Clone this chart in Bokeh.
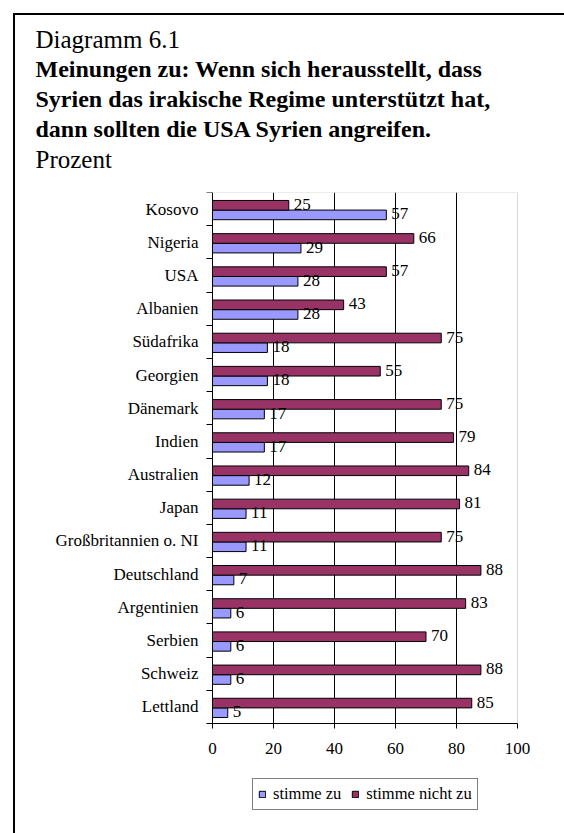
from bokeh.plotting import figure
from bokeh.models import (ColumnDataSource, FixedTicker, Title, Legend, LegendItem, Range1d, BoxAnnotation)
from bokeh.core.properties import value
from bokeh.embed import file_html
from bokeh.resources import INLINE

# ---------------- data ----------------
countries = ["Kosovo", "Nigeria", "USA", "Albanien", "Südafrika", "Georgien", "Dänemark", "Indien",
             "Australien", "Japan", "Großbritannien o. NI", "Deutschland", "Argentinien", "Serbien",
             "Schweiz", "Lettland"]
stimme_zu = [57, 29, 28, 28, 18, 18, 17, 17, 12, 11, 11, 7, 6, 6, 6, 5]
stimme_nicht_zu = [25, 66, 57, 43, 75, 55, 75, 79, 84, 81, 75, 88, 83, 70, 88, 85]
x_ticks = [0, 20, 40, 60, 80, 100]
grid_ticks = [20, 40, 60, 80]
title_lines = ["Diagramm 6.1",
               "Meinungen zu: Wenn sich herausstellt, dass",
               "Syrien das irakische Regime unterstützt hat,",
               "dann sollten die USA Syrien angreifen.",
               "Prozent"]
series_names = ["stimme zu", "stimme nicht zu"]

BLUE = "#9999FF"
MAROON = "#993366"
FONT = "Liberation Serif"

n = len(countries)
centers = [n - 1 - i + 0.5 for i in range(n)]  # Kosovo at top
shift = -0.03
src = ColumnDataSource(dict(
    country=countries,
    zu=stimme_zu,
    nicht=stimme_nicht_zu,
    y_zu=[c + shift - 0.145 for c in centers],
    y_nicht=[c + shift + 0.145 for c in centers],
    zu_lbl=[str(v) for v in stimme_zu],
    nicht_lbl=[str(v) for v in stimme_nicht_zu],
))
grid_src = ColumnDataSource(dict(x=grid_ticks, y0=[0] * len(grid_ticks), y1=[n] * len(grid_ticks)))

W, H = 564, 833
# plot area (page px): left 212, right 517, top 192, bottom 723; the frame spans the canvas below the titles
FL, FR, FT, FB = 212, 517, 192, 723
ppx = (FR - FL) / 100.0
ppy = (FB - FT) / n

p = figure(width=W, height=H, output_backend="svg", toolbar_location=None, title=None,
           x_range=Range1d(-FL / ppx, 100 + (W - FR) / ppx),
           y_range=Range1d(-(H - FB) / ppy, n),
           min_border_left=0, min_border_right=0,
           min_border_top=FT, min_border_bottom=0)
p.background_fill_color = "white"
p.border_fill_color = "white"
p.outline_line_color = None

# plot-area border (grey)
p.add_layout(BoxAnnotation(left=0, right=100, bottom=0, top=n, fill_color=None,
                           line_color="#808080", line_width=1, level="underlay"))

# vertical grid lines inside the plot area
p.segment(x0="x", y0="y0", x1="x", y1="y1", source=grid_src, line_color="black", line_width=1)
p.grid.visible = False

r_zu = p.hbar(y="y_zu", right="zu", left=0, height=0.29, source=src,
              fill_color=BLUE, line_color="black", line_width=1)
r_nicht = p.hbar(y="y_nicht", right="nicht", left=0, height=0.29, source=src,
                 fill_color=MAROON, line_color="black", line_width=1)

p.text(x="zu", y="y_zu", text="zu_lbl", source=src, x_offset=5, y_offset=-1,
       text_font=value(FONT), text_font_size="17px", text_baseline="middle", text_color="black")
p.text(x="nicht", y="y_nicht", text="nicht_lbl", source=src, x_offset=5, y_offset=-1,
       text_font=value(FONT), text_font_size="17px", text_baseline="middle", text_color="black")

# x axis, pinned at y = 0
p.xaxis.fixed_location = 0
p.xaxis.bounds = (0, 100)
p.xaxis.ticker = FixedTicker(ticks=x_ticks)
p.xaxis.axis_line_color = "black"
p.xaxis.major_tick_out = 5
p.xaxis.major_tick_in = 0
p.xaxis.minor_tick_out = 0
p.xaxis.minor_tick_in = 0
p.xaxis.major_label_text_font = FONT
p.xaxis.major_label_text_font_size = "17px"
p.xaxis.major_label_standoff = 14
p.xaxis.major_label_text_color = "black"

# y axis pinned at x = 0: labels at centers, ticks at boundaries
p.yaxis.fixed_location = 0
p.yaxis.bounds = (0, n)
p.yaxis.ticker = FixedTicker(ticks=centers, minor_ticks=list(range(n + 1)))
p.yaxis.major_label_overrides = {c: name for c, name in zip(centers, countries)}
p.yaxis.axis_line_color = "black"
p.yaxis.major_tick_out = 0
p.yaxis.major_tick_in = 0
p.yaxis.minor_tick_out = 6
p.yaxis.minor_tick_in = 0
p.yaxis.minor_tick_line_color = "black"
p.yaxis.major_label_text_font = FONT
p.yaxis.major_label_text_font_size = "17px"
p.yaxis.major_label_standoff = 8
p.yaxis.major_label_text_color = "black"

# titles stacked above the plot (closest to the plot first)
p.add_layout(Title(text=" ", text_font=FONT, text_font_size="15px", standoff=1), "above")
standoffs = [0, 2, 2, 2, 2]
for i in reversed(range(len(title_lines))):
    bold = 1 <= i <= 3
    p.add_layout(Title(text=title_lines[i], align="left", offset=35,
                       text_font=FONT, text_font_size="24px" if bold else "25px",
                       text_font_style="bold" if bold else "normal",
                       text_color="black", standoff=standoffs[i]), "above")

legend = Legend(items=[LegendItem(label=series_names[0], renderers=[r_zu]),
                       LegendItem(label=series_names[1], renderers=[r_nicht])],
                location=(252, H - 810), orientation="horizontal",
                glyph_width=8, glyph_height=8,
                label_standoff=7, spacing=10,
                padding=5, margin=0, label_height=18,
                border_line_color="black", border_line_width=1,
                background_fill_color="white", background_fill_alpha=1)
legend.label_text_font = FONT
legend.label_text_font_size = "16.5px"
legend.label_text_color = "black"
p.add_layout(legend, "center")

# outer frame of the original figure (top and left edges visible)
p.stylesheets = [":host::after { content: ''; position: absolute; left: 13px; top: 13px; "
                 "right: 0px; bottom: 0px; border-top: 2.5px solid black; "
                 "border-left: 2.5px solid black; pointer-events: none; z-index: 100; }"]

open("out.html", "w").write(file_html(p, INLINE))
